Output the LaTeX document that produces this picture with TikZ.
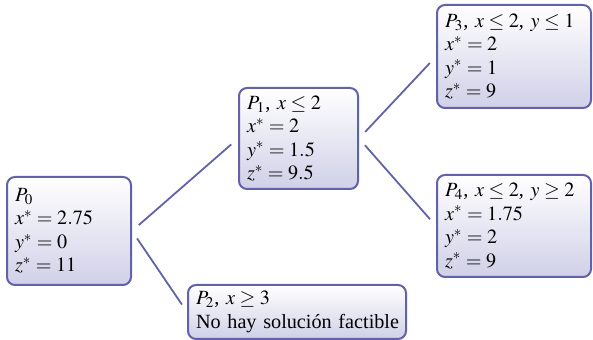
\documentclass[tikz,border=0pt]{standalone}
\usepackage{mathptmx}
\usepackage{fontspec}
\setmainfont{Liberation Serif}

\definecolor{boxline}{RGB}{98,98,168}
\definecolor{boxfill}{RGB}{208,208,232}

\tikzset{
	subproblem/.style={draw=boxline, line width=1pt, rounded corners=4pt,
		top color=white, bottom color=boxfill, anchor=north west,
		align=left, inner xsep=4pt, inner ysep=0pt,
		font=\fontsize{10.1}{11.75}\selectfont},
	branch/.style={draw=boxline, line width=0.9pt, shorten <=4.5pt, shorten >=4.5pt}
}

\begin{document}
\begin{tikzpicture}[x=0.5pt, y=-0.5pt]
		\useasboundingbox (0, 0) rectangle (593, 340);

		% P0
		\node[subproblem, text width=54pt, minimum height=54pt] (p0) at (6, 176)
			{$P_0$\\ $x^* = 2.75$\\ $y^* = 0$\\ $z^* = 11$};

		% P1
		\node[subproblem, text width=51.5pt, minimum height=50.5pt] (p1) at (238, 87)
			{$P_1$, $x \le 2$\\ $x^* = 2$\\ $y^* = 1.5$\\ $z^* = 9.5$};

		% P2
		\node[subproblem, text width=101pt, minimum height=27pt] (p2) at (187, 284)
			{$P_2$, $x \ge 3$\\ \mbox{No hay solución factible}};

		% P3
		\node[subproblem, text width=69pt, minimum height=51.5pt] (p3) at (436, 4)
			{$P_3$, $x \le 2$, $y \le 1$\\ $x^* = 2$\\ $y^* = 1$\\ $z^* = 9$};

		% P4
		\node[subproblem, text width=69pt, minimum height=51pt] (p4) at (436, 174)
			{$P_4$, $x \le 2$, $y \ge 2$\\ $x^* = 1.75$\\ $y^* = 2$\\ $z^* = 9$};

		\draw[branch] (p0.east) -- (p1.west);
		\draw[branch] (p0.east) -- (p2.west);
		\draw[branch] (p1.east) -- (p3.west);
		\draw[branch] (p1.east) -- (p4.west);
	\end{tikzpicture}
\end{document}
